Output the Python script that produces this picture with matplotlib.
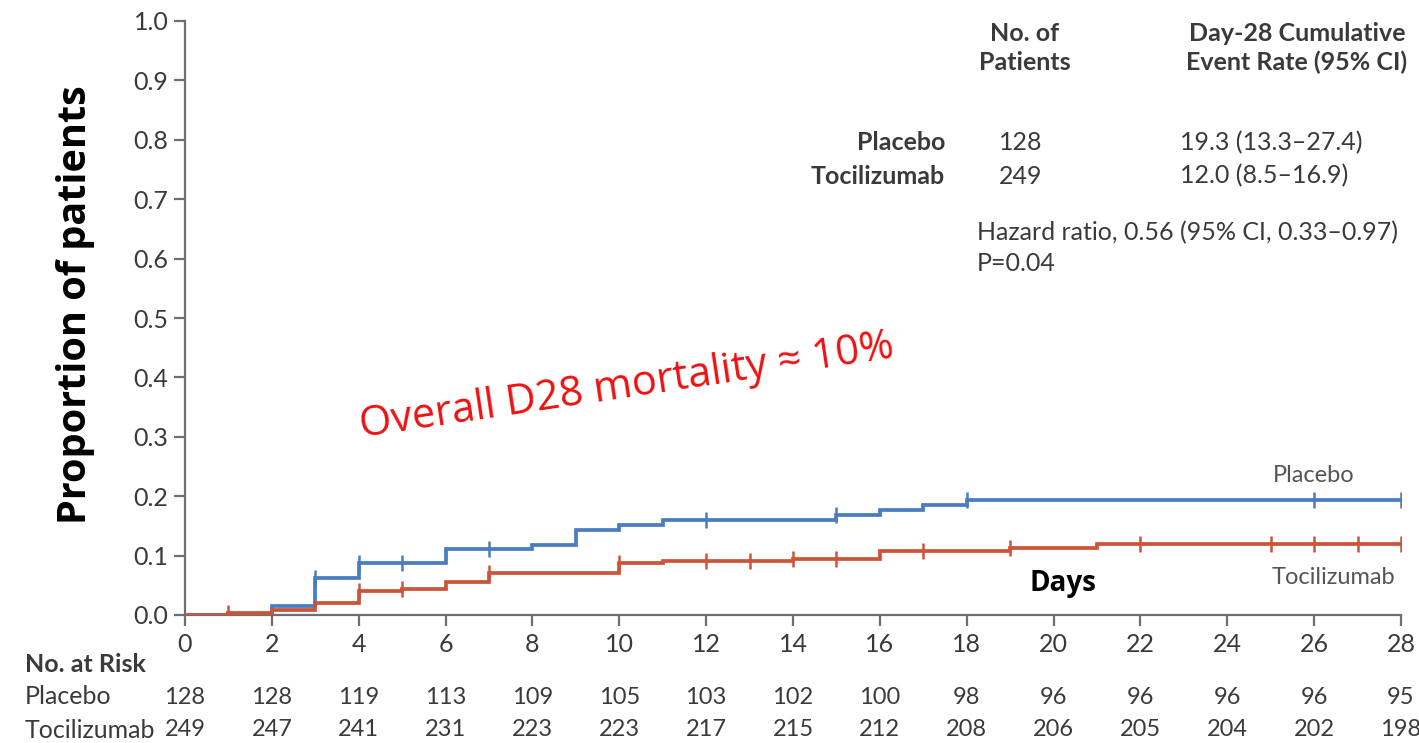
import matplotlib
matplotlib.use("Agg")
import matplotlib.pyplot as plt
from matplotlib.transforms import blended_transform_factory

# Kaplan-Meier cumulative event curves (step times in days, cumulative proportion)
placebo_days = [0, 2, 3, 4, 6, 8, 9, 10, 11, 15, 16, 17, 18, 28]
placebo_vals = [0.0, 0.015, 0.063, 0.087, 0.111, 0.118, 0.143, 0.152, 0.160, 0.168, 0.176, 0.185, 0.193, 0.193]
placebo_censor = [3, 4, 5, 7, 12, 15, 18, 26, 28]

toci_days = [0, 1, 2, 3, 4, 5, 6, 7, 10, 11, 14, 16, 19, 21, 28]
toci_vals = [0.0, 0.004, 0.008, 0.021, 0.040, 0.044, 0.056, 0.070, 0.087, 0.091, 0.094, 0.108, 0.112, 0.120, 0.120]
toci_censor = [1, 4, 5, 7, 10, 12, 13, 14, 15, 17, 19, 22, 25, 26, 27, 28]

# Number at risk table
risk_days = [0, 2, 4, 6, 8, 10, 12, 14, 16, 18, 20, 22, 24, 26, 28]
risk_placebo = [128, 128, 119, 113, 109, 105, 103, 102, 100, 98, 96, 96, 96, 96, 95]
risk_toci = [249, 247, 241, 231, 223, 223, 217, 215, 212, 208, 206, 205, 204, 202, 198]

x_ticks = list(range(0, 29, 2))
y_ticks = [i / 10 for i in range(11)]

BLUE = "#4a7dc0"
RED = "#cc5438"
GRAY = "#3a3a3a"
AXGRAY = "#6e6e6e"

narrow = ["Lato", "DejaVu Sans"]
sans = ["Open Sans", "DejaVu Sans"]
FS = 18

W, H = 1419, 743
fig = plt.figure(figsize=(W / 100, H / 100), dpi=100)
ax = fig.add_axes([185 / W, 1 - 615 / H, (1401 - 185) / W, (615 - 21) / H])


def step_value(days, vals, t):
    v = vals[0]
    for d, y in zip(days, vals):
        if d <= t:
            v = y
    return v


for days, vals, cens, col in [(placebo_days, placebo_vals, placebo_censor, BLUE),
                              (toci_days, toci_vals, toci_censor, RED)]:
    ax.step(days, vals, where="post", color=col, lw=2.7, solid_joinstyle="miter", zorder=3)
    cy = [step_value(days, vals, c) for c in cens]
    ax.plot(cens, cy, ls="none", marker="|", ms=11, mew=1.8, color=col, zorder=4)

ax.set_xlim(0, 28)
ax.set_ylim(0, 1.0)
ax.set_xticks(x_ticks)
ax.set_yticks(y_ticks)
ax.set_xticklabels([str(t) for t in x_ticks], family=narrow, fontsize=FS, color=GRAY)
ax.set_yticklabels([f"{t:.1f}" for t in y_ticks], family=narrow, fontsize=FS, color=GRAY)
ax.tick_params(axis="both", direction="out", length=8, width=1.6, color=AXGRAY)
ax.tick_params(axis="x", pad=5)
ax.tick_params(axis="y", pad=4)
for s in ["top", "right"]:
    ax.spines[s].set_visible(False)
for s in ["left", "bottom"]:
    ax.spines[s].set_color(AXGRAY)
    ax.spines[s].set_linewidth(1.6)
ax.margins(0)

# Axis label and annotations
fig.text(76 / W, 1 - 305 / H, "Proportion of patients", rotation=90, ha="center", va="center",
         fontsize=28.5, fontweight="bold", family=sans, color="black")
fig.text(1063 / W, 1 - 583 / H, "Days", ha="center", va="center",
         fontsize=20, fontweight="bold", family=sans, color="black")
fig.text(627 / W, 1 - 386 / H, "Overall D28 mortality \u2248 10%", rotation=8.5, ha="center",
         va="center", fontsize=30, family=sans, color="#ee1111")

fig.text(1314 / W, 1 - 476 / H, "Placebo", ha="center", va="center", fontsize=17,
         family=narrow, color="#555555")
fig.text(1333 / W, 1 - 578 / H, "Tocilizumab", ha="center", va="center", fontsize=17,
         family=narrow, color="#555555")

# Summary table, upper right
fig.text(1025 / W, 1 - 48 / H, "No. of\nPatients", ha="center", va="center", fontsize=FS,
         fontweight="bold", family=narrow, color=GRAY, linespacing=1.3)
fig.text(1297 / W, 1 - 48 / H, "Day-28 Cumulative\nEvent Rate (95% CI)", ha="center", va="center",
         fontsize=FS, fontweight="bold", family=narrow, color=GRAY, linespacing=1.3)
fig.text(945 / W, 1 - 143 / H, "Placebo", ha="right", va="center", fontsize=FS,
         fontweight="bold", family=narrow, color=GRAY)
fig.text(945 / W, 1 - 176 / H, "Tocilizumab", ha="right", va="center", fontsize=FS,
         fontweight="bold", family=narrow, color=GRAY)
fig.text(1021 / W, 1 - 143 / H, "128", ha="center", va="center", fontsize=FS,
         family=narrow, color=GRAY)
fig.text(1021 / W, 1 - 176 / H, "249", ha="center", va="center", fontsize=FS,
         family=narrow, color=GRAY)
fig.text(1180 / W, 1 - 143 / H, "19.3 (13.3\u201327.4)", ha="left", va="center", fontsize=FS,
         family=narrow, color=GRAY)
fig.text(1180 / W, 1 - 176 / H, "12.0 (8.5\u201316.9)", ha="left", va="center", fontsize=FS,
         family=narrow, color=GRAY)
fig.text(977 / W, 1 - 233 / H, "Hazard ratio, 0.56 (95% CI, 0.33\u20130.97)", ha="left", va="center",
         fontsize=FS, family=narrow, color=GRAY)
fig.text(977 / W, 1 - 264 / H, "P=0.04", ha="left", va="center", fontsize=FS,
         family=narrow, color=GRAY)

# Number at risk
RFS = 17
trans = blended_transform_factory(ax.transData, fig.transFigure)
fig.text(25 / W, 1 - 665 / H, "No. at Risk", ha="left", va="center", fontsize=FS,
         fontweight="bold", family=narrow, color=GRAY)
fig.text(25 / W, 1 - 697 / H, "Placebo", ha="left", va="center", fontsize=FS,
         family=narrow, color=GRAY)
fig.text(25 / W, 1 - 730 / H, "Tocilizumab", ha="left", va="center", fontsize=FS,
         family=narrow, color=GRAY)
for d, p, t in zip(risk_days, risk_placebo, risk_toci):
    ax.text(d, 1 - 697 / H, str(p), transform=trans, ha="center", va="center", fontsize=RFS,
            family=narrow, color=GRAY, clip_on=False)
    ax.text(d, 1 - 730 / H, str(t), transform=trans, ha="center", va="center", fontsize=RFS,
            family=narrow, color=GRAY, clip_on=False)

fig.savefig("out.png", dpi=100, facecolor="white")
